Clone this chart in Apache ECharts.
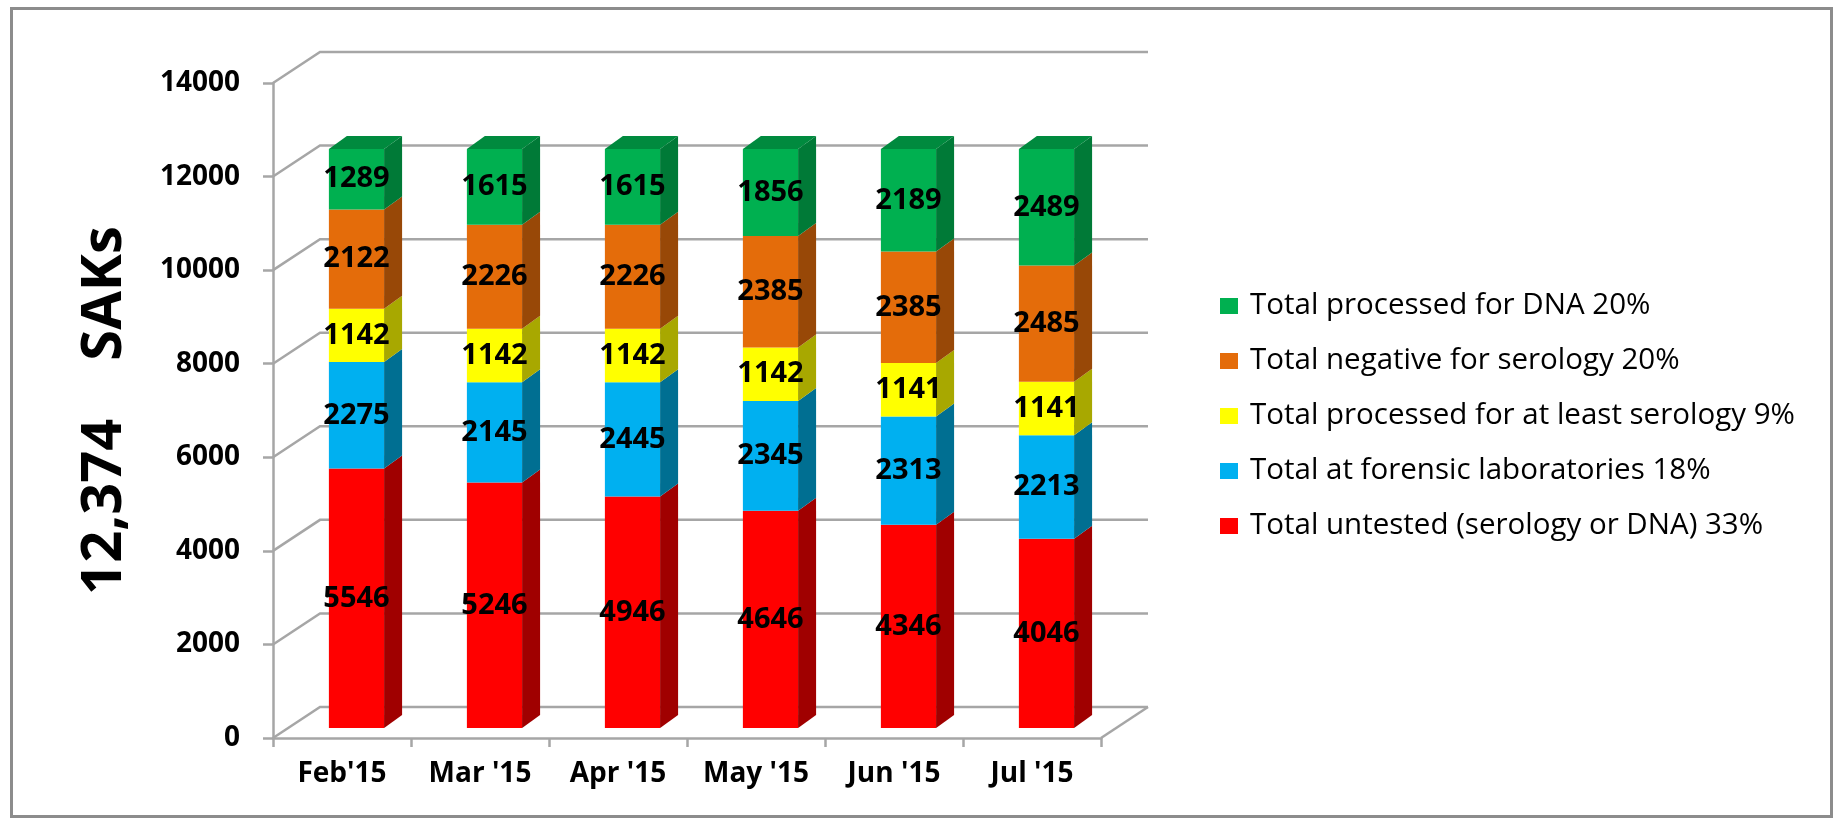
<!DOCTYPE html>
<html><head><meta charset="utf-8">
<script src="https://cdn.jsdelivr.net/npm/echarts@6/dist/echarts.min.js"></script>
<style>html,body{margin:0;padding:0;background:#fff}#c{width:1834px;height:819px}</style>
</head><body><div id="c"></div>
<script>
// ---- data ----
const categories = ["Feb'15", "Mar '15", "Apr '15", "May '15", "Jun '15", "Jul '15"];
const untested = [5546, 5246, 4946, 4646, 4346, 4046];
const forensicLabs = [2275, 2145, 2445, 2345, 2313, 2213];
const atLeastSerology = [1142, 1142, 1142, 1142, 1141, 1141];
const negativeSerology = [2122, 2226, 2226, 2385, 2385, 2485];
const processedDNA = [1289, 1615, 1615, 1856, 2189, 2489];
const yTicks = [0, 2000, 4000, 6000, 8000, 10000, 12000, 14000];
const seriesNames = [
  'Total untested (serology or DNA) 33%',
  'Total at forensic laboratories 18%',
  'Total processed for at least serology 9%',
  'Total negative for serology 20%',
  'Total processed for DNA 20%'
];
const frontColors = ['#ff0000', '#00b0f0', '#ffff00', '#e46c0a', '#00b050'];
const sideColors = ['#a00000', '#006f92', '#a8a800', '#984807', '#007a37'];
const topColors = ['#c00000', '#0090c0', '#c8c800', '#b85808', '#008a3e'];

// ---- styling constants ----
const FONT = '"Open Sans", "Noto Sans", sans-serif';
const GRAY = '#a6a6a6';
const BAR_FRAC = 0.4, SHIFT_FRAC = 0.105, LIFT = 10, DEPTH_X = 18, DEPTH_Y = 13;
const WALL_X = 47, WALL_Y = 31;

const stacks = [untested, forensicLabs, atLeastSerology, negativeSerology, processedDNA];
const bases = categories.map(() => 0);
const barData = stacks.map(arr => arr.map((v, i) => {
  const lo = bases[i]; bases[i] += v; return [i, lo, bases[i], v];
}));

function barRender(s) {
  return function (params, api) {
    const i = api.value(0), lo = api.value(1), hi = api.value(2), v = api.value(3);
    const band = api.size([1, 0])[0];
    const w = band * BAR_FRAC;
    const pLo = api.coord([i, lo]), pHi = api.coord([i, hi]);
    const cx = pLo[0] + band * SHIFT_FRAC;
    const y0 = pLo[1] - LIFT, y1 = pHi[1] - LIFT;
    const xl = cx - w / 2, xr = cx + w / 2;
    const children = [
      { type: 'rect', shape: { x: xl, y: y1, width: w, height: y0 - y1 }, style: { fill: frontColors[s] } },
      { type: 'polygon', shape: { points: [[xr, y0], [xr + DEPTH_X, y0 - DEPTH_Y], [xr + DEPTH_X, y1 - DEPTH_Y], [xr, y1]] }, style: { fill: sideColors[s] } }
    ];
    if (s === stacks.length - 1) {
      children.push({ type: 'polygon', shape: { points: [[xl, y1], [xr, y1], [xr + DEPTH_X, y1 - DEPTH_Y], [xl + DEPTH_X, y1 - DEPTH_Y]] }, style: { fill: topColors[s] } });
    }
    children.push({ type: 'text', x: cx, y: (y0 + y1) / 2, z2: 10,
      style: { text: String(v), fill: '#000', font: 'bold 29px ' + FONT, align: 'center', verticalAlign: 'middle' } });
    return { type: 'group', children };
  };
}

function wallRender(params, api) {
  const cs = params.coordSys;
  const v = api.value(1);
  const y = api.coord([0, v])[1];
  const children = [{
    type: 'polyline',
    shape: { points: [[cs.x, y], [cs.x + WALL_X, y - WALL_Y], [cs.x + cs.width + WALL_X, y - WALL_Y]] },
    style: { stroke: GRAY, lineWidth: 2.5, fill: null }
  }];
  if (v === 0) {
    children.push({ type: 'line', shape: { x1: cs.x + cs.width, y1: y, x2: cs.x + cs.width + WALL_X, y2: y - WALL_Y },
      style: { stroke: GRAY, lineWidth: 2.5 } });
  }
  return { type: 'group', children };
}

const series = [{
  type: 'custom', name: '__wall', silent: true, z: 1,
  data: yTicks.map(t => [0, t]), encode: { x: 0, y: 1 },
  renderItem: wallRender
}];
stacks.forEach((arr, s) => {
  series.push({
    type: 'custom', name: seriesNames[s], z: 2,
    itemStyle: { color: frontColors[s] },
    data: barData[s], encode: { x: 0, y: [1, 2] },
    renderItem: barRender(s)
  });
});

const chart = echarts.init(document.getElementById('c'));
chart.setOption({
  animation: false,
  backgroundColor: '#fff',
  graphic: [{ type: 'rect', left: 9, top: 6, shape: { width: 1820, height: 808 }, style: { fill: null, stroke: '#8c8c8c', lineWidth: 3 }, silent: true }],
  grid: { left: 273, right: 733, top: 83, bottom: 81, containLabel: false, outerBoundsMode: 'none' },
  legend: {
    orient: 'vertical', left: 1215, top: 286, icon: 'rect', itemWidth: 18, itemHeight: 16, itemGap: 25,
    data: seriesNames.slice().reverse(),
    textStyle: { fontFamily: FONT, fontSize: 29.5, color: '#000', lineHeight: 30, padding: [0, 0, 0, 7] }
  },
  xAxis: {
    type: 'category', data: categories,
    axisLine: { show: true, lineStyle: { color: GRAY, width: 2.5 } },
    axisTick: { show: true, length: 9, interval: 0, lineStyle: { color: GRAY, width: 2.5 } },
    axisLabel: { color: '#000', fontFamily: FONT, fontWeight: 'bold', fontSize: 28, margin: 22, interval: 0 },
    splitLine: { show: false }
  },
  yAxis: {
    type: 'value', min: 0, max: 14000, interval: 2000,
    name: '12,374    SAKs', nameLocation: 'middle', nameRotate: 90, nameGap: 140,
    nameTextStyle: { color: '#000', fontFamily: FONT, fontWeight: 'bold', fontSize: 56 },
    axisLine: { show: true, lineStyle: { color: GRAY, width: 2.5 } },
    axisTick: { show: true, length: 10, lineStyle: { color: GRAY, width: 2.5 } },
    axisLabel: { color: '#000', fontFamily: FONT, fontWeight: 'bold', fontSize: 28, margin: 33, formatter: v => String(v) },
    splitLine: { show: false }
  },
  series
});
</script></body></html>
